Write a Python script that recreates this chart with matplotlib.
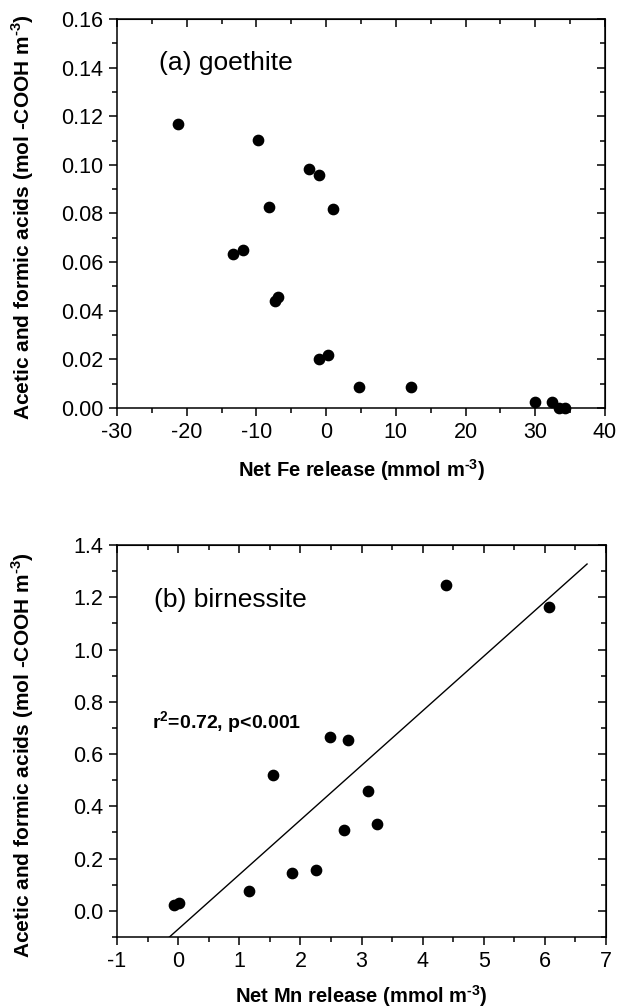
import matplotlib.pyplot as plt
import numpy as np
from matplotlib.ticker import MultipleLocator, FormatStrFormatter

plt.rcParams['font.family'] = ['Liberation Sans', 'DejaVu Sans']
plt.rcParams['mathtext.fontset'] = 'custom'
plt.rcParams['mathtext.rm'] = 'Liberation Sans:bold'
plt.rcParams['mathtext.bf'] = 'Liberation Sans:bold'
plt.rcParams['axes.unicode_minus'] = False

# (a) goethite
fe_release = [-21.25, -9.8, -2.45, -1.0, -8.2, 0.94, -13.4, -11.9, -7.3, -6.9,
              -1.0, 0.32, 4.73, 12.24, 30.0, 32.4, 33.4, 34.3]
fe_acids = [0.117, 0.1104, 0.0983, 0.0957, 0.0828, 0.0818, 0.0635, 0.065, 0.0441, 0.0457,
            0.0202, 0.0219, 0.0085, 0.0088, 0.0026, 0.0026, 0.0002, 0.0]

# (b) birnessite
mn_release = [-0.065, 0.013, 1.16, 1.55, 1.86, 2.26, 2.48, 2.78, 2.71, 3.10, 3.26, 4.39, 6.06]
mn_acids = [0.024, 0.031, 0.075, 0.519, 0.146, 0.155, 0.666, 0.655, 0.309, 0.459, 0.333, 1.248, 1.164]
fit_x = [-0.142, 6.69]
fit_slope = 0.2089
fit_intercept = -0.0703

sup3 = '$^{\\text{-3}}$'
ylab = 'Acetic and formic acids (mol -COOH m' + sup3 + ')'

fig = plt.figure(figsize=(6.17, 10.08), dpi=100)
ax1 = fig.add_axes([117/617, 1 - 408/1008, 488/617, 389/1008])
ax2 = fig.add_axes([117/617, 1 - 937/1008, 489/617, 392/1008])


def style(ax):
    for s in ax.spines.values():
        s.set_linewidth(1.1)
    ax.tick_params(which='both', direction='out', top=False, right=False, labelsize=15.5, width=1.1)
    ax.tick_params(which='major', length=6, pad=4)
    ax.tick_params(which='minor', length=3.5)
    # inward ticks on top and right
    sx = ax.secondary_xaxis('top')
    sx.tick_params(which='both', direction='in', labeltop=False, width=1.1)
    sx.tick_params(which='major', length=6)
    sx.tick_params(which='minor', length=3.5)
    sx.set_xticks(ax.get_xticks())
    sx.xaxis.set_minor_locator(ax.xaxis.get_minor_locator())
    sx.set_xticklabels([])
    sy = ax.secondary_yaxis('right')
    sy.tick_params(which='both', direction='in', labelright=False, width=1.1)
    sy.tick_params(which='major', length=6)
    sy.tick_params(which='minor', length=3.5)
    sy.set_yticks(ax.get_yticks())
    sy.yaxis.set_minor_locator(ax.yaxis.get_minor_locator())
    sy.set_yticklabels([])


ax1.scatter(fe_release, fe_acids, s=55, color='black', zorder=3, clip_on=False)
ax1.set_xlim(-30, 40)
ax1.set_ylim(0, 0.16)
ax1.xaxis.set_major_locator(MultipleLocator(10))
ax1.xaxis.set_minor_locator(MultipleLocator(5))
ax1.yaxis.set_major_locator(MultipleLocator(0.02))
ax1.yaxis.set_minor_locator(MultipleLocator(0.01))
ax1.yaxis.set_major_formatter(FormatStrFormatter('%.2f'))
ax1.set_xlabel('Net Fe release (mmol m' + sup3 + ')', fontsize=14.5, fontweight='bold')
ax1.set_ylabel(ylab, fontsize=15, fontweight='bold')
ax1.xaxis.set_label_coords(0.5, -0.125)
ax1.yaxis.set_label_coords(-0.166, 0.49)
ax1.text(-24.0, 0.142, '(a) goethite', fontsize=19, va='center', ha='left')
style(ax1)

ax2.scatter(mn_release, mn_acids, s=55, color='black', zorder=3)
fx = np.array(fit_x)
ax2.plot(fx, fit_slope * fx + fit_intercept, color='black', lw=1.0)
ax2.set_xlim(-1, 7)
ax2.set_ylim(-0.1, 1.4)
ax2.xaxis.set_major_locator(MultipleLocator(1))
ax2.xaxis.set_minor_locator(MultipleLocator(0.5))
ax2.yaxis.set_major_locator(MultipleLocator(0.2))
ax2.yaxis.set_minor_locator(MultipleLocator(0.1))
ax2.yaxis.set_major_formatter(FormatStrFormatter('%.1f'))
ax2.set_xlabel('Net Mn release (mmol m' + sup3 + ')', fontsize=14.5, fontweight='bold')
ax2.set_ylabel(ylab, fontsize=15, fontweight='bold')
ax2.xaxis.set_label_coords(0.5, -0.118)
ax2.yaxis.set_label_coords(-0.166, 0.465)
ax2.text(-0.4, 1.19, '(b) birnessite', fontsize=19, va='center', ha='left')
ax2.text(-0.43, 0.72, 'r$^{\\mathbf{2}}$=0.72, p<0.001', fontsize=14, fontweight='bold', va='center', ha='left')
style(ax2)

fig.savefig('out.png', dpi=100)
